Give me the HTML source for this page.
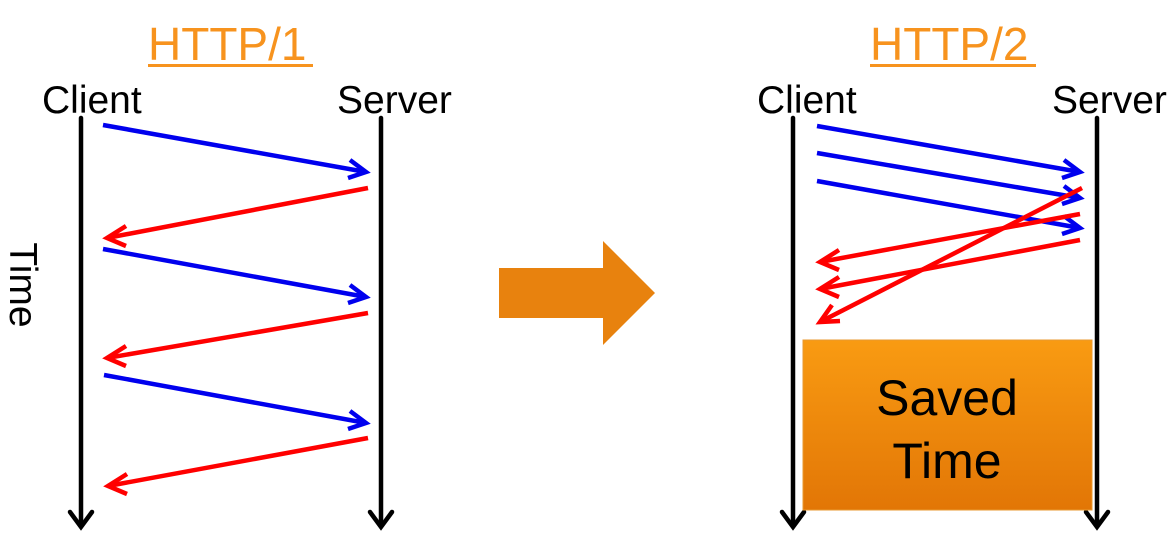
<!DOCTYPE html>
<html><head><meta charset="utf-8"><style>
html,body{margin:0;padding:0;background:#fff;}
svg{display:block;font-family:"Liberation Sans",Arial,sans-serif;}
</style></head><body>
<svg width="1175" height="554" viewBox="0 0 1175 554">
<defs>
<linearGradient id="g" x1="0" y1="0" x2="0" y2="1"><stop offset="0" stop-color="#f99b12"/><stop offset="1" stop-color="#e27606"/></linearGradient>
</defs>
<g fill="#f7931e" font-size="46">
<text x="148" y="60">HTTP/1</text>
<text x="870" y="60">HTTP/2</text>
</g>
<rect x="148" y="64" width="165" height="3" fill="#f7931e"/>
<rect x="870" y="64" width="166" height="3" fill="#f7931e"/>
<g font-size="39" fill="#000">
<text x="42" y="113">Client</text>
<text x="337" y="113">Server</text>
<text x="757" y="113">Client</text>
<text x="1052" y="113">Server</text>
<text transform="translate(10,285) rotate(90)" text-anchor="middle" font-size="39">Time</text>
</g>
<g stroke="#000" stroke-width="4.5" fill="none" stroke-linecap="round" stroke-linejoin="miter">
<line x1="81" y1="118" x2="81" y2="525"/><polyline points="70,512 81,527 92,512"/>
<line x1="381" y1="118" x2="381" y2="525"/><polyline points="370,512 381,527 392,512"/>
<line x1="793" y1="118" x2="793" y2="525"/><polyline points="782,512 793,527 804,512"/>
<line x1="1097" y1="118" x2="1097" y2="525"/><polyline points="1086,512 1097,527 1108,512"/>
</g>
<rect x="803" y="340" width="289" height="170" fill="url(#g)" stroke="#e89a30" stroke-width="1"/>
<g font-size="50" fill="#000" text-anchor="middle">
<text x="947" y="415">Saved</text>
<text x="947" y="478">Time</text>
</g>
<polygon points="499,268 603,268 603,241 655,293 603,345 603,318 499,318" fill="#e8820e"/>
<g stroke-width="4.5" fill="none" stroke-linecap="butt">
<g stroke="#0000ee">
<line x1="103" y1="125" x2="366" y2="172"/><polyline points="350,160 366,172 348,178"/>
<line x1="103" y1="249" x2="366" y2="297"/><polyline points="350,285 366,297 348,303"/>
<line x1="104" y1="375" x2="366" y2="423"/><polyline points="350,411 366,423 348,429"/>
<line x1="817" y1="126" x2="1080" y2="172"/><polyline points="1064,160 1080,172 1062,178"/>
<line x1="817" y1="153" x2="1080" y2="198"/><polyline points="1064,186 1080,198 1062,204"/>
<line x1="817" y1="181" x2="1080" y2="228"/><polyline points="1064,216 1080,228 1062,234"/>
</g>
<g stroke="#ff0000">
<line x1="368" y1="188" x2="107" y2="238"/><polyline points="126,226 107,238 126,246"/>
<line x1="368" y1="313" x2="107" y2="358"/><polyline points="126,346 107,358 126,366"/>
<line x1="368" y1="438" x2="108" y2="486"/><polyline points="127,474 108,486 127,494"/>
<line x1="1082" y1="188" x2="820" y2="322"/><polyline points="832,305 820,322 840,321"/>
<line x1="1080" y1="214" x2="820" y2="262"/><polyline points="839,250 820,262 839,270"/>
<line x1="1080" y1="240" x2="820" y2="289"/><polyline points="839,277 820,289 839,297"/>
</g>
</g>
</svg>
</body></html>
